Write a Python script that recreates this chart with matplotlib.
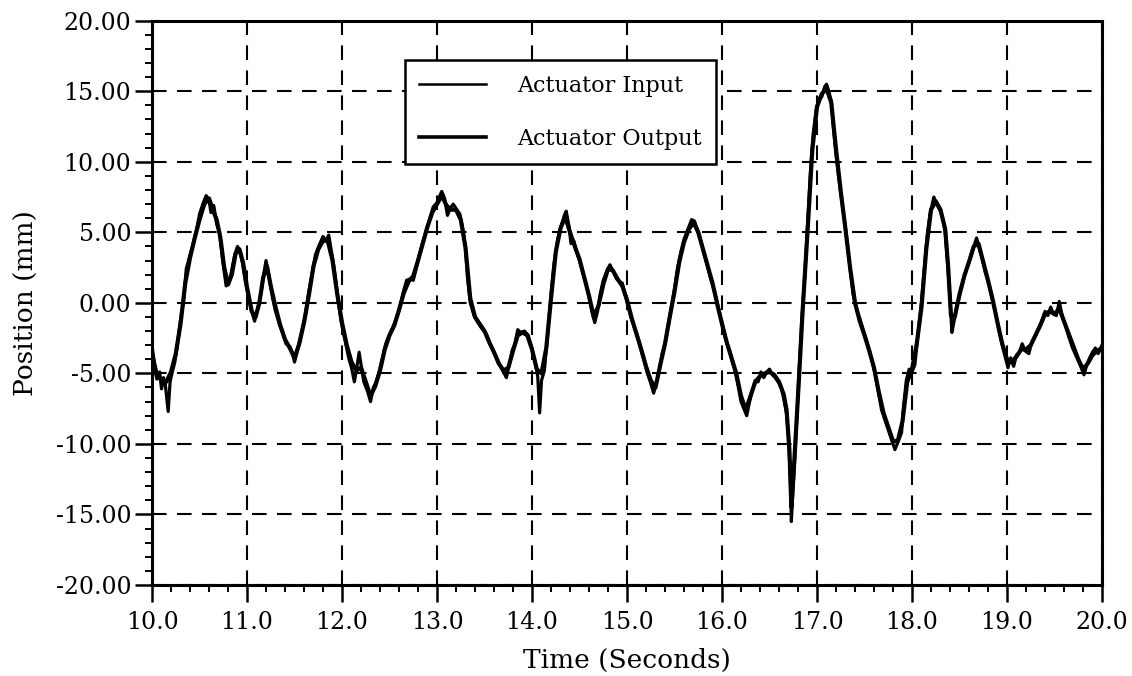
# -*- coding: utf-8 -*-
# Actuator input / output position over time
import matplotlib.pyplot as plt
from matplotlib.ticker import MultipleLocator, FormatStrFormatter

# commanded position (mm) vs time (s)
t_in = [10.00, 10.03, 10.05, 10.08, 10.10, 10.12, 10.14, 10.17, 10.19, 10.21, 10.24, 10.26, 10.30, 10.33, 10.36, 10.40,
        10.43, 10.47, 10.50, 10.54, 10.57, 10.60, 10.62, 10.65, 10.68, 10.71, 10.74, 10.78, 10.81, 10.83, 10.87, 10.90,
        10.93, 10.95, 10.98, 11.01, 11.04, 11.08, 11.12, 11.15, 11.18, 11.20, 11.23, 11.27, 11.30, 11.34, 11.38, 11.41,
        11.45, 11.48, 11.50, 11.53, 11.57, 11.61, 11.65, 11.69, 11.72, 11.76, 11.80, 11.83, 11.86, 11.88, 11.91, 11.93,
        11.96, 11.99, 12.03, 12.07, 12.10, 12.13, 12.16, 12.18, 12.21, 12.23, 12.27, 12.30, 12.33, 12.36, 12.39, 12.43,
        12.46, 12.49, 12.53, 12.58, 12.62, 12.65, 12.68, 12.72, 12.75, 12.78, 12.81, 12.85, 12.89, 12.93, 12.96, 13.00,
        13.03, 13.05, 13.08, 13.11, 13.14, 13.17, 13.21, 13.24, 13.27, 13.30, 13.32, 13.35, 13.39, 13.43, 13.47, 13.52,
        13.57, 13.62, 13.67, 13.70, 13.73, 13.76, 13.79, 13.82, 13.85, 13.88, 13.92, 13.96, 13.99, 14.03, 14.06, 14.08,
        14.10, 14.13, 14.16, 14.20, 14.23, 14.27, 14.31, 14.34, 14.36, 14.39, 14.41, 14.44, 14.47, 14.50, 14.54, 14.57,
        14.60, 14.63, 14.66, 14.69, 14.72, 14.75, 14.79, 14.82, 14.85, 14.89, 14.92, 14.95, 14.98, 15.01, 15.04, 15.08,
        15.12, 15.15, 15.18, 15.21, 15.25, 15.28, 15.31, 15.34, 15.37, 15.40, 15.43, 15.46, 15.50, 15.53, 15.57, 15.60,
        15.64, 15.68, 15.71, 15.74, 15.78, 15.81, 15.85, 15.89, 15.93, 15.97, 16.01, 16.04, 16.08, 16.11, 16.14, 16.17,
        16.20, 16.23, 16.26, 16.29, 16.32, 16.35, 16.38, 16.41, 16.44, 16.47, 16.50, 16.53, 16.56, 16.59, 16.62, 16.65,
        16.68, 16.70, 16.72, 16.73, 16.75, 16.77, 16.79, 16.81, 16.84, 16.87, 16.90, 16.93, 16.96, 16.99, 17.02, 17.05,
        17.08, 17.10, 17.12, 17.15, 17.17, 17.20, 17.23, 17.26, 17.30, 17.33, 17.36, 17.38, 17.42, 17.45, 17.50, 17.54,
        17.58, 17.61, 17.65, 17.68, 17.72, 17.75, 17.78, 17.82, 17.85, 17.89, 17.91, 17.94, 17.97, 18.00, 18.03, 18.06,
        18.10, 18.13, 18.16, 18.19, 18.23, 18.26, 18.30, 18.33, 18.35, 18.37, 18.39, 18.41, 18.42, 18.44, 18.47, 18.51,
        18.56, 18.60, 18.63, 18.66, 18.68, 18.71, 18.74, 18.77, 18.81, 18.84, 18.88, 18.91, 18.95, 18.98, 19.01, 19.04,
        19.07, 19.10, 19.13, 19.16, 19.19, 19.23, 19.26, 19.29, 19.32, 19.36, 19.40, 19.43, 19.46, 19.49, 19.52, 19.55,
        19.58, 19.61, 19.65, 19.69, 19.73, 19.77, 19.81, 19.84, 19.87, 19.90, 19.93, 19.96, 20.00]
pos_in = [-3.0, -4.6, -5.4, -4.9, -6.1, -5.3, -5.8, -7.7, -5.6, -5.0, -4.2, -3.3, -1.2, 0.0, 2.4, 3.4,
          4.1, 5.2, 6.3, 7.1, 7.6, 7.3, 6.4, 6.9, 5.6, 5.0, 3.2, 1.2, 1.5, 2.0, 3.4, 4.0,
          3.6, 2.9, 1.6, 0.6, -0.4, -1.3, -0.2, 0.8, 2.2, 3.0, 1.9, 0.3, -0.6, -1.5, -2.2, -2.9,
          -3.1, -3.6, -4.2, -3.4, -2.2, -1.0, 0.8, 2.3, 3.4, 4.1, 4.7, 4.4, 4.8, 4.0, 2.8, 1.8,
          0.2, -1.3, -2.6, -3.9, -4.6, -5.6, -4.4, -3.5, -4.8, -5.6, -6.3, -7.0, -6.0, -5.6, -4.9, -3.8,
          -2.9, -2.4, -1.8, -1.0, 0.0, 0.9, 1.6, 1.7, 1.6, 2.4, 3.3, 4.3, 5.2, 6.1, 6.8, 7.1,
          7.6, 7.9, 7.4, 6.2, 6.7, 7.0, 6.6, 6.3, 5.3, 3.9, 1.8, 0.0, -0.9, -1.4, -1.8, -2.2,
          -3.1, -3.8, -4.5, -4.9, -5.3, -4.4, -3.4, -2.9, -1.9, -2.1, -2.0, -2.3, -3.0, -4.1, -5.2, -7.8,
          -5.5, -4.8, -2.6, 0.6, 2.7, 4.5, 5.5, 6.2, 6.5, 5.4, 4.2, 4.4, 3.6, 3.0, 2.0, 1.3,
          0.4, -0.6, -1.4, -0.6, 0.7, 1.6, 2.3, 2.7, 2.3, 1.7, 1.5, 1.4, 0.6, -0.2, -1.0, -1.8,
          -2.6, -3.4, -4.1, -4.9, -5.7, -6.4, -5.7, -4.7, -3.6, -2.9, -1.7, -0.6, 1.0, 2.4, 3.7, 4.5,
          5.2, 5.9, 5.8, 5.2, 4.3, 3.5, 2.5, 1.5, 0.6, -0.6, -1.7, -2.6, -3.4, -4.2, -4.9, -5.9,
          -7.0, -7.5, -8.0, -7.0, -6.2, -5.5, -5.6, -4.9, -5.3, -4.9, -4.7, -5.1, -5.3, -5.6, -5.9, -6.8,
          -7.9, -9.6, -12.5, -15.5, -12.8, -10.6, -7.8, -5.0, -1.2, 1.8, 5.5, 9.2, 12.0, 13.6, 14.5, 14.6,
          15.3, 15.5, 15.1, 14.3, 12.6, 10.5, 8.8, 7.3, 5.3, 3.5, 1.8, 0.6, -0.5, -1.1, -2.2, -3.1,
          -4.1, -5.0, -6.5, -7.6, -8.4, -9.0, -9.6, -10.4, -9.9, -9.2, -7.4, -5.5, -4.7, -4.9, -4.4, -2.4,
          0.1, 2.5, 4.8, 6.3, 7.5, 7.0, 6.5, 5.8, 5.0, 3.2, 1.4, -1.0, -2.1, -1.4, -0.3, 0.8,
          2.1, 2.9, 3.5, 4.2, 4.6, 3.8, 3.1, 2.2, 1.3, 0.4, -0.7, -1.8, -3.0, -3.8, -4.6, -3.9,
          -4.5, -3.7, -3.5, -2.9, -3.4, -3.6, -2.8, -2.4, -2.0, -1.4, -0.6, -0.9, -0.3, -0.8, -0.9, 0.1,
          -0.9, -1.5, -2.4, -3.2, -3.8, -4.4, -5.1, -4.4, -3.9, -3.5, -3.2, -3.6, -3.0]

# measured actuator position (mm) vs time (s)
t_out = [10.00, 10.05, 10.10, 10.15, 10.20, 10.25, 10.30, 10.35, 10.40, 10.45, 10.50, 10.55, 10.60, 10.64, 10.68, 10.72,
         10.76, 10.80, 10.84, 10.88, 10.92, 10.96, 11.00, 11.05, 11.09, 11.13, 11.17, 11.21, 11.25, 11.30, 11.35, 11.40,
         11.45, 11.50, 11.55, 11.60, 11.65, 11.70, 11.75, 11.80, 11.85, 11.90, 11.95, 12.00, 12.05, 12.10, 12.15, 12.20,
         12.25, 12.30, 12.35, 12.40, 12.45, 12.50, 12.55, 12.60, 12.65, 12.70, 12.75, 12.80, 12.85, 12.90, 12.95, 13.00,
         13.05, 13.10, 13.15, 13.20, 13.25, 13.30, 13.35, 13.40, 13.45, 13.50, 13.55, 13.60, 13.65, 13.70, 13.75, 13.80,
         13.85, 13.90, 13.95, 14.00, 14.05, 14.10, 14.15, 14.20, 14.25, 14.30, 14.35, 14.40, 14.45, 14.50, 14.55, 14.60,
         14.65, 14.70, 14.75, 14.80, 14.85, 14.90, 14.95, 15.00, 15.05, 15.10, 15.15, 15.20, 15.25, 15.30, 15.35, 15.40,
         15.45, 15.50, 15.55, 15.60, 15.65, 15.70, 15.75, 15.80, 15.85, 15.90, 15.95, 16.00, 16.05, 16.10, 16.15, 16.20,
         16.25, 16.30, 16.35, 16.40, 16.45, 16.50, 16.55, 16.60, 16.65, 16.68, 16.71, 16.73, 16.75, 16.78, 16.81, 16.85,
         16.90, 16.95, 17.00, 17.05, 17.10, 17.15, 17.20, 17.25, 17.30, 17.35, 17.40, 17.45, 17.50, 17.55, 17.60, 17.65,
         17.70, 17.75, 17.80, 17.85, 17.90, 17.95, 18.00, 18.05, 18.10, 18.15, 18.20, 18.25, 18.30, 18.35, 18.38, 18.41,
         18.45, 18.50, 18.55, 18.60, 18.65, 18.70, 18.75, 18.80, 18.85, 18.90, 18.95, 19.00, 19.05, 19.10, 19.15, 19.20,
         19.25, 19.30, 19.35, 19.40, 19.45, 19.50, 19.55, 19.60, 19.65, 19.70, 19.75, 19.80, 19.85, 19.90, 19.95, 20.00]
pos_out = [-3.6, -5.1, -5.5, -5.6, -4.9, -3.6, -1.5, 1.4, 3.2, 4.6, 5.9, 7.0, 7.4, 6.6, 5.9, 4.6,
           2.5, 1.3, 2.0, 3.5, 3.8, 2.8, 1.1, -0.6, -1.0, 0.0, 1.8, 2.6, 1.2, -0.3, -1.6, -2.6,
           -3.2, -3.9, -2.9, -1.4, 0.5, 2.6, 3.8, 4.4, 4.4, 3.0, 0.6, -1.4, -3.0, -4.2, -4.8, -4.6,
           -5.6, -6.6, -5.9, -4.8, -3.3, -2.3, -1.6, -0.5, 0.7, 1.5, 1.9, 3.0, 4.2, 5.4, 6.4, 7.0,
           7.6, 6.9, 6.6, 6.6, 5.9, 3.9, 0.3, -1.0, -1.5, -2.0, -2.8, -3.5, -4.3, -4.8, -4.6, -3.4,
           -2.3, -2.1, -2.3, -3.3, -4.7, -5.0, -3.2, 0.3, 3.6, 5.3, 6.1, 5.0, 4.0, 3.1, 1.8, 0.5,
           -1.0, -0.2, 1.3, 2.4, 2.3, 1.7, 1.2, 0.2, -1.1, -2.2, -3.3, -4.5, -5.5, -6.0, -4.4, -2.9,
           -1.0, 0.8, 2.9, 4.3, 5.2, 5.7, 5.0, 3.8, 2.6, 1.4, -0.1, -1.5, -2.8, -3.9, -5.0, -6.6,
           -7.6, -6.6, -5.6, -5.2, -5.0, -4.9, -5.1, -5.6, -6.5, -7.6, -10.5, -14.5, -12.5, -9.0, -5.4, -0.4,
           5.0, 10.8, 13.9, 14.8, 15.2, 14.2, 10.9, 7.9, 5.2, 2.4, 0.0, -1.3, -2.3, -3.4, -4.6, -6.3,
           -7.8, -8.8, -9.8, -9.8, -8.4, -5.6, -4.7, -2.9, -0.3, 3.8, 6.6, 7.2, 6.6, 5.2, 2.6, -0.9,
           -1.0, 0.6, 1.9, 2.9, 4.0, 4.2, 2.9, 1.6, 0.2, -1.4, -2.9, -4.0, -4.2, -3.8, -3.3, -3.3,
           -3.0, -2.3, -1.6, -0.8, -0.6, -0.8, -0.4, -1.3, -2.2, -3.1, -4.0, -4.7, -4.3, -3.7, -3.4, -3.2]

plt.rcParams['font.family'] = ['DejaVu Serif']
plt.rcParams['axes.unicode_minus'] = False

fig = plt.figure(figsize=(11.32, 6.76), dpi=100)
ax = fig.add_axes([0.1343, 0.1346, 0.8392, 0.8348])

ax.plot(t_in, pos_in, color='black', lw=2.3, label='Actuator Input')
ax.plot(t_out, pos_out, color='black', lw=3.0, label='Actuator Output')

ax.set_xlim(10, 20)
ax.set_ylim(-20, 20)

# ticks and number formats
ax.xaxis.set_major_locator(MultipleLocator(1.0))
ax.xaxis.set_minor_locator(MultipleLocator(0.2))
ax.yaxis.set_major_locator(MultipleLocator(5.0))
ax.yaxis.set_minor_locator(MultipleLocator(1.0))
ax.xaxis.set_major_formatter(FormatStrFormatter('%.1f'))
ax.yaxis.set_major_formatter(FormatStrFormatter('%.2f'))
ax.tick_params(axis='x', which='major', direction='out', length=12, width=1.8,
               labelsize=17, pad=7)
ax.tick_params(axis='y', which='major', direction='out', length=12, width=1.8,
               labelsize=17, pad=3)
ax.tick_params(axis='both', which='minor', direction='out', length=5, width=1.4)
ax.tick_params(top=False, right=False, which='both')

# dashed grid on the major ticks
ax.grid(True, which='major', color='black', linestyle=(0, (7, 5)), linewidth=1.5)
ax.set_axisbelow(True)

for s in ax.spines.values():
    s.set_linewidth(2.2)

ax.set_xlabel('Time (Seconds)', fontsize=19, labelpad=10)
ax.set_ylabel('Position (mm)', fontsize=19, labelpad=12)

leg = ax.legend(loc='upper left', bbox_to_anchor=(0.266, 0.93), borderaxespad=0,
                fontsize=16, frameon=True, fancybox=False, framealpha=1,
                edgecolor='black', handlelength=3.0, handletextpad=1.4,
                labelspacing=1.4, borderpad=0.65)
leg.get_frame().set_linewidth(1.8)
leg.get_lines()[0].set_linewidth(1.8)
leg.get_lines()[1].set_linewidth(2.6)

plt.savefig('out.png', dpi=100)
